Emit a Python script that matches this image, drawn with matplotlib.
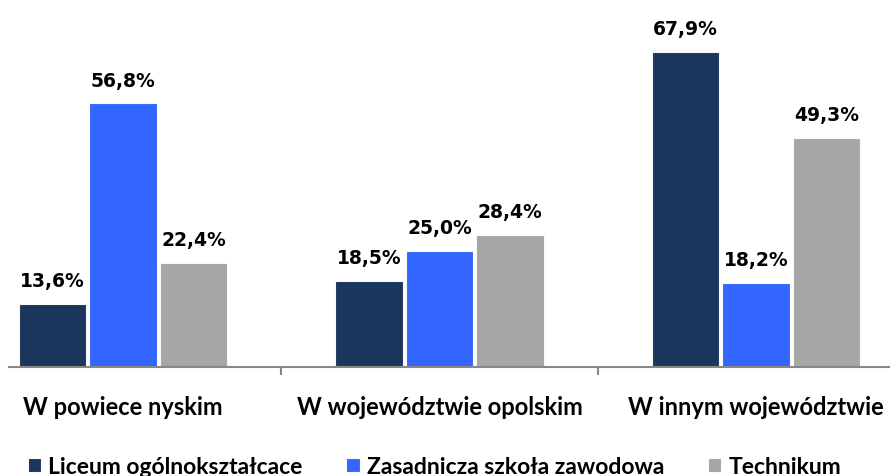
import matplotlib
matplotlib.use("Agg")
import matplotlib.pyplot as plt
import numpy as np

groups = ["W powiece nyskim", "W województwie opolskim", "W innym województwie"]
series_names = ["Liceum ogólnokształcace", "Zasadnicza szkoła zawodowa", "Technikum"]
liceum = [13.6, 18.5, 67.9]
zasadnicza = [56.8, 25.0, 18.2]
technikum = [22.4, 28.4, 49.3]
colors = ["#1A365D", "#3366FF", "#A6A6A6"]

fig = plt.figure(figsize=(8.9, 4.77), dpi=100)
ax = fig.add_axes([9 / 890, 109 / 477, 1 - 9 / 890, 368 / 477])

x = np.arange(len(groups))
width = 0.213
step = 0.223

for i, (vals, name, col) in enumerate(zip([liceum, zasadnicza, technikum], series_names, colors)):
    bars = ax.bar(x + (i - 1) * step, vals, width, color=col, label=name,
                  edgecolor="#F8F8F8", linewidth=0.8)
    for b, v in zip(bars, vals):
        ax.annotate(f"{v:.1f}%".replace(".", ","),
                    (b.get_x() + b.get_width() / 2, v),
                    xytext=(0, 10), textcoords="offset points",
                    ha="center", va="bottom", fontsize=13.5, fontweight="bold",
                    family="DejaVu Sans")

ax.set_xlim(-0.36, 2.423)
ax.set_ylim(0, 79.3)

for s in ["top", "right", "left"]:
    ax.spines[s].set_visible(False)
ax.spines["bottom"].set_color("#888888")
ax.spines["bottom"].set_linewidth(1.5)

ax.set_yticks([])
ax.set_xticks(x)
ax.set_xticklabels(groups, fontsize=17, family="Lato", fontweight="bold")
ax.tick_params(axis="x", which="major", length=0, pad=20)
ax.set_xticks([0.5, 1.5], minor=True)
ax.tick_params(axis="x", which="minor", length=6, width=1.5, color="#888888", direction="out")

fig.legend(loc="center", bbox_to_anchor=(0.488, 0.02), ncol=3, frameon=False,
           prop={"family": "Lato", "weight": "bold", "size": 16.5},
           handlelength=0.6, handleheight=0.6, handletextpad=0.3, columnspacing=1.9)

fig.savefig("out.png", dpi=100)
